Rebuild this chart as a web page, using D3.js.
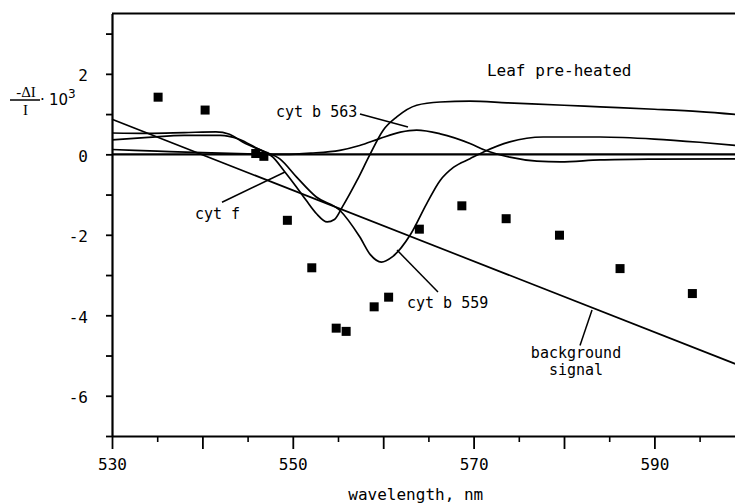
<!DOCTYPE html>
<html>
<head>
<meta charset="utf-8">
<script src="https://cdn.jsdelivr.net/npm/d3@7"></script>
<style>
  body { margin: 0; background: #fff; }
  svg { display: block; }
  text { font-family: "DejaVu Sans Mono", monospace; fill: #000; }
</style>
</head>
<body>
<svg id="viz_svg01" width="735" height="504"></svg>
<script>
// Measured points: wavelength (nm) and -dI/I * 10^3.
const measuredWave = [535.1, 540.3, 545.9, 546.8, 549.4, 552.1, 554.8, 555.9, 559.0, 560.6, 564.0, 568.7, 573.6, 579.5, 586.2, 594.2];
const measuredVal  = [1.42, 1.10, 0.02, -0.05, -1.64, -2.82, -4.32, -4.40, -3.79, -3.55, -1.86, -1.28, -1.60, -2.01, -2.84, -3.46];

// Component curves as [wavelength, value].
const cytF = [[530, 0.36], [534, 0.42], [538, 0.47], [542, 0.47], [544, 0.38], [546, 0.15], [547.8, -0.07],
    [549, -0.4], [550.4, -0.81], [551.5, -1.15], [552.6, -1.47], [553.8, -1.68], [554.6, -1.62], [555.5, -1.3],
    [557.1, -0.65], [558.5, -0.02], [560, 0.6], [561.5, 0.93], [563.7, 1.22], [566.3, 1.3], [569.6, 1.32],
    [573.7, 1.28], [580, 1.22], [584, 1.18], [590, 1.12], [595, 1.06], [600, 0.97]];
const cytB559 = [[530, 0.53], [534, 0.52], [538, 0.54], [541.5, 0.56], [543, 0.5], [544.5, 0.3], [546.7, 0.08],
    [548.6, -0.12], [550.4, -0.56], [552.6, -1.06], [555.2, -1.39], [557.4, -2.05], [558.6, -2.5], [559.8, -2.68],
    [561, -2.55], [563, -2.0], [564.8, -1.23], [566.3, -0.65], [567.8, -0.32], [569.6, -0.11], [571.1, 0.06],
    [574, 0.31], [577.7, 0.43], [584, 0.43], [590, 0.38], [595, 0.3], [600, 0.2]];
const cytB563 = [[530, 0.12], [535, 0.08], [540, 0.04], [545, 0.01], [549, 0.0], [552, 0.03], [555.2, 0.1],
    [557.4, 0.22], [559.6, 0.39], [561.9, 0.55], [563.7, 0.6], [566.3, 0.51], [569.6, 0.27], [571.3, 0.1],
    [574, -0.07], [577, -0.17], [579.6, -0.19], [584, -0.14], [590, -0.12], [600, -0.11]];
const backgroundSignal = [[530, 0.87], [600, -5.30]];
const zeroLine = [[530, 0], [600, 0]];

// Axis ticks.
const xMajorTicks = [530, 540, 550, 560, 570, 580, 590];
const xMinorTicks = [535, 545, 555, 565, 575, 585, 595];
const xLabelTicks = [530, 550, 570, 590];
const yTicks = [3, 2, 1, 0, -1, -2, -3, -4, -5, -6, -7];
const yLabelTicks = [2, 0, -2, -4, -6];

// Annotations: text anchor and leader line, in data units.
const notes = [
    {text: ["cyt b 563"], at: [548.14, 0.93], size: 15, anchor: "start", leader: [[557.43, 1.0], [562.74, 0.68]]},
    {text: ["cyt f"], at: [539.18, -1.61], size: 15, anchor: "start", leader: [[542.17, -1.19], [549.14, -0.44]]},
    {text: ["cyt b 559"], at: [562.63, -3.82], size: 15, anchor: "start", leader: [[561.53, -2.38], [566.06, -3.42]]},
    {text: ["background", "signal"], at: [581.33, -5.05], size: 15, anchor: "middle", leader: [[581.77, -4.75], [583.10, -3.87]]},
    {text: ["Leaf pre-heated"], at: [571.48, 1.95], size: 16, anchor: "start", leader: null}
];

// ChartSpecs holds the layout and the scales.
class ChartSpecs {
    constructor(){
        this.left = 112;
        this.pxPerNm = 9.04;
        this.bottom = 436;
        this.pxPerUnit = 40.24;
        // line step for labels of more than one line
        this.noteLineStep = 17;

        this.scaleX = d3.scaleLinear()
            .domain([530, 600])
            .range([this.left, this.left + 70 * this.pxPerNm]);
        this.scaleY = d3.scaleLinear()
            .domain([-7, 3.5])
            .range([this.bottom, this.bottom - 10.5 * this.pxPerUnit]);
    }
}

document.addEventListener("DOMContentLoaded", function(){
    let svg = d3.select("#viz_svg01");
    let specs = new ChartSpecs();
    drawAxes(svg, specs);
    drawCurves(svg, specs);
    drawPoints(svg, specs);
    drawNotes(svg, specs);
    drawYLabel(svg);
});

// drawAxes draws the frame, ticks and tick labels.
function drawAxes(svg, specs){
    const x = specs.scaleX, y = specs.scaleY;

    // minor x ticks first, no labels
    svg.append("g")
        .attr("transform", `translate(0, ${specs.bottom})`)
        .call(d3.axisBottom(x).tickValues(xMinorTicks).tickSize(6).tickSizeOuter(0).tickFormat(""))
        .call(g => g.select(".domain").remove())
        .selectAll("line").attr("stroke", "#000").attr("stroke-width", 1.6);

    let xAxis = svg.append("g")
        .attr("transform", `translate(0, ${specs.bottom})`)
        .call(d3.axisBottom(x).tickValues(xMajorTicks).tickSize(13).tickSizeOuter(0).tickPadding(10)
            .tickFormat(d => xLabelTicks.includes(d) ? d : ""));
    xAxis.select(".domain").attr("stroke-width", 2.2);
    xAxis.selectAll("line").attr("stroke-width", 1.8);
    xAxis.selectAll("text").style("font-size", "16px").style("font-family", "DejaVu Sans Mono");

    let yAxis = svg.append("g")
        .attr("transform", `translate(${specs.left}, 0)`)
        .call(d3.axisLeft(y).tickValues(yTicks).tickSize(6).tickSizeOuter(0).tickPadding(18)
            .tickFormat(d => yLabelTicks.includes(d) ? d : ""));
    yAxis.select(".domain").attr("stroke-width", 2.2);
    yAxis.selectAll("line").attr("stroke-width", 1.8);
    yAxis.selectAll("text").attr("dy", "0.42em").style("font-size", "16px").style("font-family", "DejaVu Sans Mono");

    // top border of the frame
    svg.append("line")
        .attr("x1", x(530)).attr("x2", x(600))
        .attr("y1", y(3.5)).attr("y2", y(3.5))
        .attr("stroke", "#000").attr("stroke-width", 2.2);

    // x axis title
    svg.append("text")
        .attr("x", x(563.6))
        .attr("y", specs.bottom + 64)
        .attr("text-anchor", "middle")
        .style("font-size", "16px")
        .text("wavelength, nm");
}

// drawCurves draws the fitted components, the background and the zero line.
function drawCurves(svg, specs){
    let smooth = d3.line()
        .x(d => specs.scaleX(d[0]))
        .y(d => specs.scaleY(d[1]))
        .curve(d3.curveMonotoneX);

    let curves = [
        {data: zeroLine, w: 2.2},
        {data: backgroundSignal, w: 1.7},
        {data: cytF, w: 1.7},
        {data: cytB559, w: 1.7},
        {data: cytB563, w: 1.7}
    ];

    svg.append("g").selectAll("path")
        .data(curves)
        .enter()
        .append("path")
        .attr("d", c => smooth(c.data))
        .style("fill", "none")
        .style("stroke", "#000")
        .attr("stroke-width", c => c.w);
}

// drawPoints draws the measured squares.
function drawPoints(svg, specs){
    const size = 9;
    svg.append("g").selectAll("rect")
        .data(measuredWave.map((w, i) => [w, measuredVal[i]]))
        .enter()
        .append("rect")
        .attr("x", d => specs.scaleX(d[0]) - size / 2)
        .attr("y", d => specs.scaleY(d[1]) - size / 2)
        .attr("width", size)
        .attr("height", size)
        .style("fill", "#000");
}

// drawNotes writes the curve labels and their leader lines.
function drawNotes(svg, specs){
    const x = specs.scaleX, y = specs.scaleY;
    notes.forEach(n => {
        // one text element per line
        n.text.forEach((line, i) => {
            svg.append("text")
                .attr("x", x(n.at[0]))
                .attr("y", y(n.at[1]) + i * specs.noteLineStep)
                .attr("text-anchor", n.anchor)
                .style("font-size", n.size + "px")
                .text(line);
        });
        if(n.leader){
            svg.append("line")
                .attr("x1", x(n.leader[0][0])).attr("y1", y(n.leader[0][1]))
                .attr("x2", x(n.leader[1][0])).attr("y2", y(n.leader[1][1]))
                .attr("stroke", "#000").attr("stroke-width", 1.5);
        }
    });
}

// drawYLabel writes the -dI/I . 10^3 label as a small fraction.
function drawYLabel(svg){
    let g = svg.append("g");
    g.append("text")
        .attr("x", 26).attr("y", 97)
        .attr("text-anchor", "middle")
        .style("font-family", "Liberation Serif")
        .style("font-size", "15px")
        .text("-\u0394I");
    g.append("line")
        .attr("x1", 10).attr("x2", 40)
        .attr("y1", 100).attr("y2", 100)
        .attr("stroke", "#000").attr("stroke-width", 1.5);
    g.append("text")
        .attr("x", 25.5).attr("y", 115)
        .attr("text-anchor", "middle")
        .style("font-family", "Liberation Serif")
        .style("font-size", "15px")
        .text("I");
    g.append("text")
        .attr("x", 40).attr("y", 105)
        .style("font-family", "DejaVu Sans")
        .style("font-size", "15px")
        .text("\u00b7");
    g.append("text")
        .attr("x", 49).attr("y", 105)
        .style("font-family", "DejaVu Sans")
        .style("font-size", "15px")
        .text("10");
    g.append("text")
        .attr("x", 68).attr("y", 98)
        .style("font-family", "DejaVu Sans")
        .style("font-size", "12px")
        .text("3");
}
</script>
</body>
</html>
